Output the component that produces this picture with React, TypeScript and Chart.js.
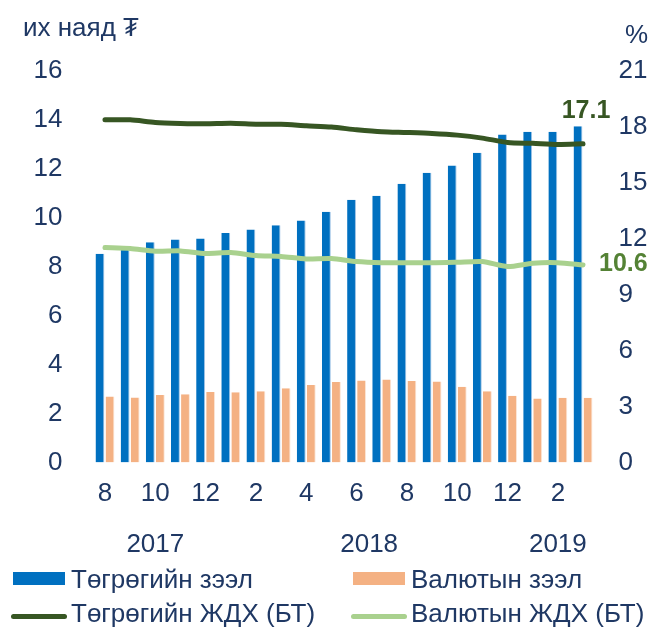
import React, { useEffect, useRef } from "react";
import { Chart, registerables } from "chart.js";

Chart.register(...registerables);

const months = ["8", "9", "10", "11", "12", "1", "2", "3", "4", "5", "6", "7", "8", "9", "10", "11", "12", "1", "2", "3"];
const years = ["2017", "2018", "2019"];
const yearSpans = [5, 12, 3];

const tugrugLoans = [8.53, 8.72, 9.0, 9.11, 9.15, 9.38, 9.52, 9.7, 9.89, 10.25, 10.74, 10.9, 11.39, 11.84, 12.14, 12.66, 13.4, 13.52, 13.52, 13.74];
const fxLoans = [2.7, 2.66, 2.76, 2.79, 2.88, 2.87, 2.91, 3.03, 3.17, 3.29, 3.35, 3.39, 3.33, 3.31, 3.1, 2.91, 2.73, 2.62, 2.65, 2.65];
const tugrugRate = [18.38, 18.38, 18.24, 18.19, 18.17, 18.2, 18.15, 18.14, 18.06, 17.99, 17.85, 17.74, 17.7, 17.65, 17.56, 17.4, 17.17, 17.12, 17.06, 17.1];
const fxRate = [11.53, 11.48, 11.33, 11.35, 11.21, 11.26, 11.1, 11.05, 10.92, 10.94, 10.78, 10.72, 10.72, 10.71, 10.74, 10.78, 10.51, 10.69, 10.72, 10.6];

const seriesLabels = ["Төгрөгийн зээл", "Валютын зээл", "Төгрөгийн ЖДХ (БТ)", "Валютын ЖДХ (БТ)"];
const leftTitle = "их наяд ₮";
const rightTitle = "%";

const NAVY = "#1F3864";
const FONT = '"Liberation Sans", Arial, sans-serif';
const FS = 26;

const overlayPlugin = {
  id: "overlay",
  afterDraw(chart: any) {
    const ctx = chart.ctx;
    const x = chart.scales.x;
    ctx.save();
    ctx.fillStyle = NAVY;
    ctx.font = `${FS}px ${FONT}`;
    ctx.textBaseline = "alphabetic";
    ctx.textAlign = "left";
    ctx.fillText(leftTitle, 23, 36);
    ctx.fillText(rightTitle, 625, 43);

    // year labels
    ctx.textAlign = "center";
    let start = 0;
    years.forEach((y, i) => {
      const end = start + yearSpans[i] - 1;
      const cx = (x.getPixelForValue(start) + x.getPixelForValue(end)) / 2;
      ctx.fillText(y, cx, 552);
      start = end + 1;
    });

    // end-value labels
    const ds = chart.data.datasets;
    const metaDark = chart.getDatasetMeta(2);
    const metaLight = chart.getDatasetMeta(3);
    const pd = metaDark.data[metaDark.data.length - 1];
    const pl = metaLight.data[metaLight.data.length - 1];
    ctx.font = `bold 25px ${FONT}`;
    ctx.fillStyle = "#375623";
    ctx.textAlign = "center";
    const vd = ds[2].data[ds[2].data.length - 1];
    ctx.fillText(Number(vd).toFixed(1), pd.x + 3, pd.y - 26);
    ctx.fillStyle = "#548235";
    ctx.textAlign = "left";
    const vl = ds[3].data[ds[3].data.length - 1];
    ctx.fillText(Number(vl).toFixed(1), pl.x + 16, pl.y + 6);

    // legend
    const cols = [13, 353];
    const rows = [588, 621.5];
    ctx.font = `${FS}px ${FONT}`;
    ds.forEach((d: any, i: number) => {
      const cx = cols[i % 2];
      const by = rows[Math.floor(i / 2)];
      if (d.type === "bar") {
        ctx.fillStyle = d.backgroundColor;
        ctx.fillRect(cx, 572, 52, 13);
      } else {
        ctx.strokeStyle = d.borderColor;
        ctx.lineWidth = 5;
        ctx.lineCap = "round";
        ctx.beginPath();
        ctx.moveTo(cx + 0.5, 616.5);
        ctx.lineTo(cx + 51.5, 616.5);
        ctx.stroke();
      }
      ctx.fillStyle = NAVY;
      ctx.textAlign = "left";
      ctx.fillText(d.label, cx + 58, by);
    });
    ctx.restore();
  },
};

export default function App() {
  const ref = useRef<HTMLCanvasElement>(null);
  useEffect(() => {
    if (!ref.current) return;
    Chart.defaults.font.family = FONT;
    const chart = new Chart(ref.current, {
      data: {
        labels: months,
        datasets: [
          {
            type: "bar",
            label: seriesLabels[0],
            data: tugrugLoans,
            backgroundColor: "#0070C0",
            borderColor: "#9DC3E6",
            borderWidth: { right: 1, left: 0, top: 0, bottom: 0 },
            yAxisID: "y",
            order: 2,
            categoryPercentage: 0.8,
            barPercentage: 0.88,
          },
          {
            type: "bar",
            label: seriesLabels[1],
            data: fxLoans,
            backgroundColor: "#F4B183",
            borderColor: "#FBE5D6",
            borderWidth: { right: 1, left: 0, top: 0, bottom: 0 },
            yAxisID: "y",
            order: 2,
            categoryPercentage: 0.8,
            barPercentage: 0.88,
          },
          {
            type: "line",
            label: seriesLabels[2],
            data: tugrugRate,
            borderColor: "#375623",
            backgroundColor: "#375623",
            borderWidth: 5,
            borderCapStyle: "round",
            pointRadius: 0,
            tension: 0.25,
            yAxisID: "y1",
            order: 1,
          },
          {
            type: "line",
            label: seriesLabels[3],
            data: fxRate,
            borderColor: "#A9D18E",
            backgroundColor: "#A9D18E",
            borderWidth: 5,
            borderCapStyle: "round",
            pointRadius: 0,
            tension: 0.25,
            yAxisID: "y1",
            order: 0,
          },
        ] as any,
      },
      options: {
        responsive: false,
        animation: false,
        devicePixelRatio: 1,
        layout: { padding: { top: 71, left: 0, right: 0, bottom: 0 } },
        plugins: { legend: { display: false }, tooltip: { enabled: false } },
        scales: {
          x: {
            grid: { display: false, drawTicks: false },
            border: { display: false },
            ticks: {
              autoSkip: false,
              maxRotation: 0,
              minRotation: 0,
              padding: 16,
              color: NAVY,
              font: { size: FS },
              callback: (_v: any, i: number) => (i % 2 === 0 ? months[i] : ""),
            },
            afterFit: (s: any) => {
              s.height = 170.5;
            },
          },
          y: {
            position: "left",
            min: 0,
            max: 16,
            grid: { display: false, drawTicks: false },
            border: { display: false },
            ticks: { stepSize: 2, padding: 30, color: NAVY, font: { size: FS } },
            afterFit: (s: any) => {
              s.width = 92.4;
            },
          },
          y1: {
            position: "right",
            min: 0,
            max: 21,
            grid: { display: false, drawTicks: false },
            border: { display: false },
            ticks: { stepSize: 3, padding: 23, color: NAVY, font: { size: FS } },
            afterFit: (s: any) => {
              s.width = 69.4;
            },
          },
        },
      } as any,
      plugins: [overlayPlugin],
    });
    return () => chart.destroy();
  }, []);
  return (
    <div style={{ position: "absolute", left: 0, top: 0, width: 665, height: 633, background: "#fff" }}>
      <canvas ref={ref} width={665} height={633} style={{ width: 665, height: 633, display: "block" }} />
    </div>
  );
}
